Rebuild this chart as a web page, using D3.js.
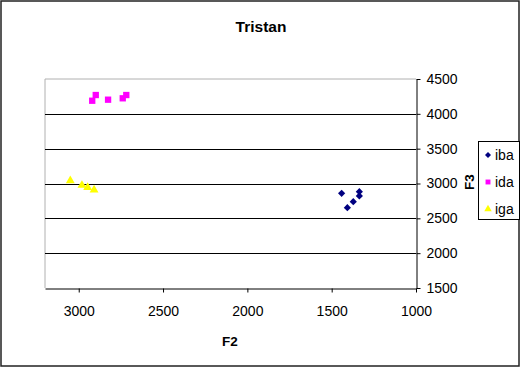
<!DOCTYPE html>
<html><head><meta charset="utf-8">
<script src="https://cdn.jsdelivr.net/npm/d3@7"></script>
<style>body{margin:0;background:#fff}svg{display:block;font-family:"Liberation Sans",Arial,sans-serif}</style>
</head><body><svg id="c" width="520" height="367"></svg>
<script>
const title = "Tristan";
const xLabel = "F2", yLabel = "F3";
const xTicks = [3000, 2500, 2000, 1500, 1000];
const yTicks = [1500, 2000, 2500, 3000, 3500, 4000, 4500];
const seriesNames = ["iba", "ida", "iga"];
const ibaF2 = [1441, 1407, 1372, 1336, 1336];
const ibaF3 = [2859, 2653, 2739, 2882, 2821];
const idaF2 = [2920, 2899, 2826, 2739, 2718];
const idaF3 = [4188, 4270, 4203, 4223, 4270];
const igaF2 = [3050, 2981, 2947, 2909];
const igaF3 = [3040, 2974, 2945, 2907];
const colors = ["#000080", "#ff00ff", "#ffff00"];

const svg = d3.select("#c");
svg.append("rect").attr("x",1).attr("y",1).attr("width",518).attr("height",365)
  .attr("fill","#fff").attr("stroke","#222").attr("stroke-width",1.5);

const L=45, R=416, T=79, B=288;
const x = d3.scaleLinear().domain([3200,1000]).range([L,R]);
const y = d3.scaleLinear().domain([1500,4500]).range([B,T]);
const fmt = d3.format("d");

svg.append("path").attr("d",`M${L},${B}V${T}H${R}`).attr("fill","none").attr("stroke","#b0b0b0").attr("stroke-width",1);
svg.append("g").selectAll("line").data(yTicks.filter(v=>v>1500&&v<4500)).join("line")
  .attr("x1",L).attr("x2",R).attr("y1",d=>Math.round(y(d))+0.5).attr("y2",d=>Math.round(y(d))+0.5)
  .attr("stroke","#000").attr("stroke-width",1);

const xa = svg.append("g").attr("transform",`translate(0,${B+0.5})`)
  .call(d3.axisBottom(x).tickValues(xTicks).tickFormat(fmt).tickSize(4).tickPadding(14).tickSizeOuter(0));
xa.select(".domain").attr("stroke","#000");
xa.selectAll("text").attr("font-size","14px").attr("fill","#000").attr("font-family","Liberation Sans, Arial, sans-serif");
const ya = svg.append("g").attr("transform",`translate(${R+0.5},0)`)
  .call(d3.axisRight(y).tickValues(yTicks).tickFormat(fmt).tickSize(4).tickPadding(6).tickSizeOuter(0));
ya.select(".domain").attr("stroke","#000");
ya.selectAll("text").attr("font-size","14px").attr("fill","#000").attr("font-family","Liberation Sans, Arial, sans-serif");

svg.append("text").attr("x",261).attr("y",32).attr("text-anchor","middle")
  .attr("font-weight","bold").attr("font-size","15.5px").text(title);
svg.append("text").attr("x",230).attr("y",346).attr("text-anchor","middle")
  .attr("font-weight","bold").attr("font-size","13.5px").text(xLabel);
svg.append("text").attr("transform","translate(474,182) rotate(-90)").attr("text-anchor","middle")
  .attr("font-weight","bold").attr("font-size","13.5px").text(yLabel);

const diamond = d3.symbol().type(d3.symbolSquare).size(26);
const square = d3.symbol().type(d3.symbolSquare).size(40);
const tri = d3.symbol().type(d3.symbolTriangle).size(34);
const shapes = [
  {xs: ibaF2, ys: ibaF3, sym: diamond, rot: 45},
  {xs: idaF2, ys: idaF3, sym: square, rot: 0},
  {xs: igaF2, ys: igaF3, sym: tri, rot: 0}
];
shapes.forEach((s,i)=>{
  svg.append("g").selectAll("path").data(s.xs.map((v,j)=>[v,s.ys[j]])).join("path")
    .attr("d", s.sym()).attr("fill", colors[i])
    .attr("transform", d=>`translate(${x(d[0])},${y(d[1])}) rotate(${s.rot})`);
});

const lg = svg.append("g");
lg.append("rect").attr("x",478.5).attr("y",141.5).attr("width",41).attr("height",78)
  .attr("fill","#fff").attr("stroke","#000").attr("stroke-width",1);
const lSyms = [d3.symbol().type(d3.symbolSquare).size(18), d3.symbol().type(d3.symbolSquare).size(24), d3.symbol().type(d3.symbolTriangle).size(24)];
seriesNames.forEach((n,i)=>{
  const cy = 155 + i*27;
  lg.append("path").attr("d", lSyms[i]()).attr("fill", colors[i])
    .attr("transform", `translate(488,${cy}) rotate(${i===0?45:0})`);
  lg.append("text").attr("x",495).attr("y",cy+5).attr("font-size","14px").text(n);
});
</script></body></html>
